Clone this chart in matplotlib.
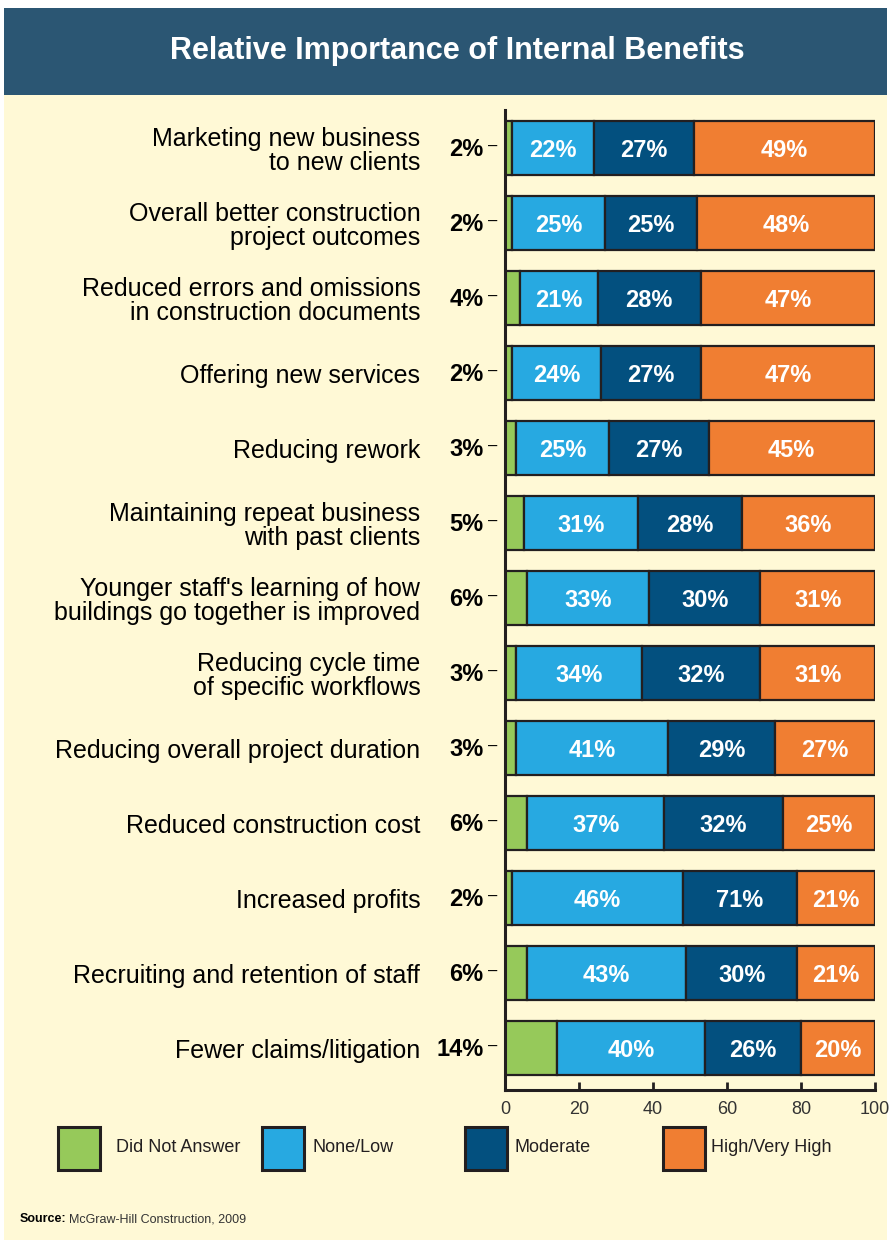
import matplotlib

matplotlib.use("Agg")
import matplotlib.pyplot as plt
from matplotlib.patches import Rectangle

plt.rcParams["font.family"] = ["Liberation Sans", "DejaVu Sans"]

categories = [
    "Marketing new business\nto new clients",
    "Overall better construction\nproject outcomes",
    "Reduced errors and omissions\nin construction documents",
    "Offering new services",
    "Reducing rework",
    "Maintaining repeat business\nwith past clients",
    "Younger staff's learning of how\nbuildings go together is improved",
    "Reducing cycle time\nof specific workflows",
    "Reducing overall project duration",
    "Reduced construction cost",
    "Increased profits",
    "Recruiting and retention of staff",
    "Fewer claims/litigation",
]
did_not_answer = [2, 2, 4, 2, 3, 5, 6, 3, 3, 6, 2, 6, 14]
none_low = [22, 25, 21, 24, 25, 31, 33, 34, 41, 37, 46, 43, 40]
moderate = [27, 25, 28, 27, 27, 28, 30, 32, 29, 32, 31, 30, 26]
high = [49, 48, 47, 47, 45, 36, 31, 31, 27, 25, 21, 21, 20]
# the printed label for "Increased profits" reads 71% in the source
moderate_labels = ["27%", "25%", "28%", "27%", "27%", "28%", "30%", "32%", "29%", "32%", "71%", "30%", "26%"]
series_names = ["Did Not Answer", "None/Low", "Moderate", "High/Very High"]

GREEN = "#96c95a"
LIGHT = "#27a9e1"
DARK = "#03507f"
ORANGE = "#f07e32"
CREAM = "#fff9d6"
HEADER = "#2b5673"
EDGE = "#231f20"

fig = plt.figure(figsize=(8.91, 12.40), dpi=100)
fig.patch.set_facecolor("white")
fig.patches.append(Rectangle((4 / 891, 0), 883 / 891, 1 - 95 / 1240, transform=fig.transFigure,
                             facecolor=CREAM, edgecolor="none", zorder=-2))
fig.patches.append(Rectangle((4 / 891, 1 - 95 / 1240), 883 / 891, 87 / 1240, transform=fig.transFigure,
                             facecolor=HEADER, edgecolor="none", zorder=-1))
fig.text(457 / 891, 1 - 51 / 1240, "Relative Importance of Internal Benefits", color="white",
         fontsize=22, fontweight="bold", ha="center", va="center")

ax = fig.add_axes([505 / 891, 1 - 1090 / 1240, 370 / 891, 980 / 1240])
ax.set_facecolor("none")

ys = list(range(len(categories)))
colors = [GREEN, LIGHT, DARK, ORANGE]
left = [0] * len(categories)
for name, vals, col in zip(series_names, [did_not_answer, none_low, moderate, high], colors):
    ax.barh(ys, vals, left=left, height=0.73, color=col, edgecolor=EDGE, linewidth=1.6, label=name)
    if col != GREEN:
        texts = moderate_labels if col == DARK else [f"{v}%" for v in vals]
        for y, l, v, t in zip(ys, left, vals, texts):
            ax.text(l + v / 2, y + 0.03, t, color="white", fontsize=17, fontweight="bold",
                    ha="center", va="center")
    left = [a + b for a, b in zip(left, vals)]

# green share printed to the left of the axis
for y, v in zip(ys, did_not_answer):
    ax.annotate(f"{v}%", xy=(0, y), xytext=(-15.5, -1), textcoords="offset points",
                ha="right", va="center", fontsize=17, fontweight="bold", color="black",
                annotation_clip=False)
    ax.annotate("–", xy=(0, y), xytext=(-8.6, 1), textcoords="offset points",
                ha="center", va="center", fontsize=12, color="black", annotation_clip=False)

ax.set_xlim(0, 100)
ax.set_ylim(12.56, -0.507)
ax.set_xticks([0, 20, 40, 60, 80, 100])
ax.tick_params(axis="x", direction="in", length=6, width=2, colors=EDGE, labelsize=13, pad=8,
               labelcolor="#333333")
ax.set_yticks(ys)
ax.set_yticklabels(categories, fontsize=18, linespacing=1.05)
ax.tick_params(axis="y", length=0, pad=61)
for s in ("top", "right"):
    ax.spines[s].set_visible(False)
for s in ("left", "bottom"):
    ax.spines[s].set_linewidth(2.2)
    ax.spines[s].set_color(EDGE)

# legend squares
leg_x = [58, 262, 465, 663]
leg_text_x = [116, 312, 515, 711]
for px, tx, col, name in zip(leg_x, leg_text_x, colors, series_names):
    fig.patches.append(Rectangle((px / 891, 1 - 1170 / 1240), 42 / 891, 43 / 1240, transform=fig.transFigure,
                                 facecolor=col, edgecolor=EDGE, linewidth=2.2))
    fig.text(tx / 891, 1 - 1148 / 1240, name, fontsize=13, color="#231f20", ha="left", va="center")

src = fig.text(20 / 891, 1 - 1219 / 1240, "Source:", fontsize=9, fontweight="bold", ha="left", va="center")
ax.annotate("McGraw-Hill Construction, 2009", xy=(1, 0.5), xycoords=src, xytext=(2, 0),
            textcoords="offset points", fontsize=9, ha="left", va="center", color="#333333",
            annotation_clip=False)

fig.savefig("out.png", dpi=100, facecolor=fig.get_facecolor())
